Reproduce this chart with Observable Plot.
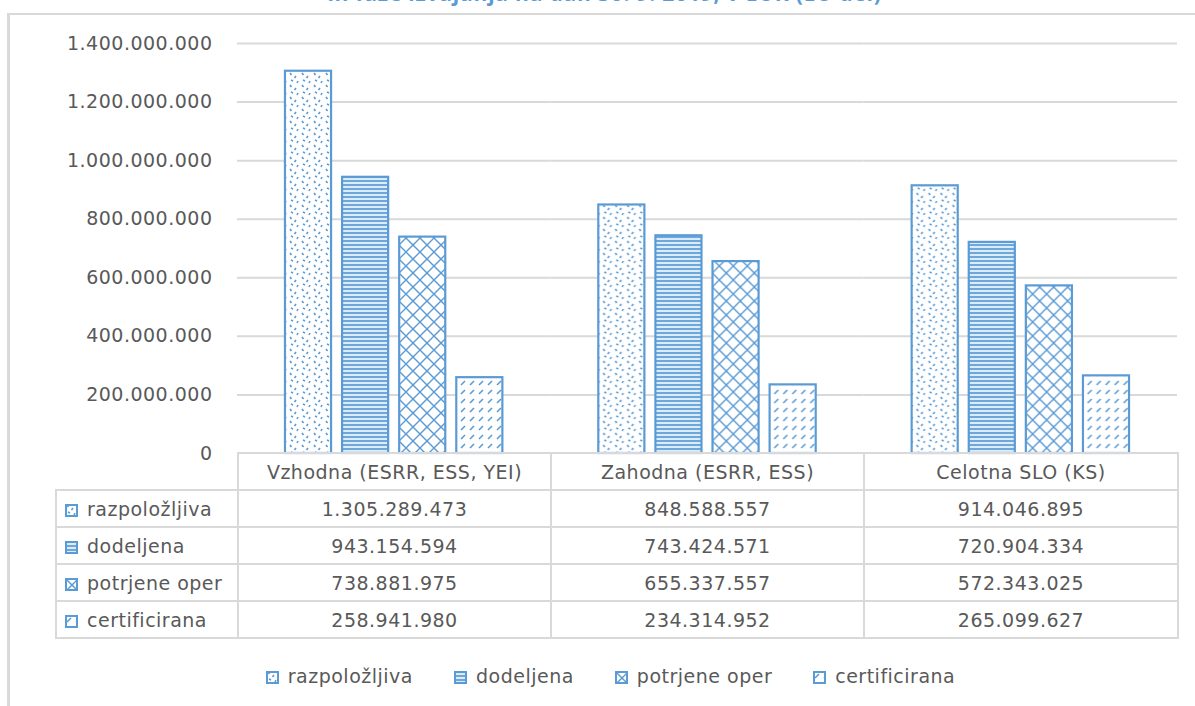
<!DOCTYPE html>
<html>
<head>
<meta charset="utf-8">
<script src="https://cdn.jsdelivr.net/npm/d3@7"></script>
<script src="https://cdn.jsdelivr.net/npm/@observablehq/plot@0.6"></script>
<style>
  html, body { margin: 0; padding: 0; background: #fff; overflow: hidden; }
  #wrap { position: relative; width: 1195px; height: 706px; font-family: "DejaVu Sans", sans-serif; color: #595959; letter-spacing: 0.5px; }
  #frame { position: absolute; left: 7px; top: 13px; right: -4px; bottom: -4px; border-left: 3px solid #d9d9d9; border-top: 2px solid #d9d9d9; }
  #title { position: absolute; left: 0; width: 1195px; top: -21px; text-align: center; font-family: "Open Sans", sans-serif; font-weight: 700; font-size: 21px; letter-spacing: 0.8px; color: #5B9BD5; white-space: nowrap; padding-left: 14px; box-sizing: border-box; }
  #chart { position: absolute; left: 0; top: 0; }
  #tbl { position: absolute; left: 55px; top: 452px; border-collapse: collapse; table-layout: fixed; width: 1123px; font-size: 19px; color: #595959; }
  #tbl td { border: 2px solid #d9d9d9; height: 35px; padding: 0; text-align: center; white-space: nowrap; overflow: hidden; }
  #tbl td.blank { border: none; }
  #tbl td.lab { text-align: left; padding-left: 8px; }
  .ico { display: inline-block; width: 13px; height: 13px; vertical-align: -1px; margin-right: 9px; }
  #legend { position: absolute; top: 665px; left: 0; width: 1195px; display: flex; justify-content: center; gap: 41px; font-size: 19px; color: #595959; padding-left: 26px; box-sizing: border-box; }
  #legend .ico { margin-right: 9px; }
</style>
</head>
<body>
<svg width="0" height="0" style="position:absolute">
  <defs>
    <pattern id="pat0" patternUnits="userSpaceOnUse" width="12" height="12">
      <rect width="12" height="12" fill="#fff"/>
      <path d="M2 1 l1.5 2 M8 4 l-1.5 2 M3 8 l2 1 M10 9 l-1 2" stroke="#5B9BD5" stroke-width="1.6" fill="none"/>
    </pattern>
    <pattern id="pat1" patternUnits="userSpaceOnUse" width="6" height="4">
      <rect width="6" height="4" fill="#dcebf8"/>
      <rect y="0" width="6" height="2" fill="#5B9BD5" fill-opacity="0.85"/>
    </pattern>
    <pattern id="pat2" patternUnits="userSpaceOnUse" width="14" height="14">
      <rect width="14" height="14" fill="#fff"/>
      <path d="M0 0 L14 14 M14 0 L0 14" stroke="#5B9BD5" stroke-width="1.4" fill="none"/>
      <circle cx="7" cy="7" r="1.2" fill="#5B9BD5"/>
    </pattern>
    <pattern id="pat3" patternUnits="userSpaceOnUse" width="9" height="9">
      <rect width="9" height="9" fill="#fff"/>
      <path d="M2 7 L6 3" stroke="#5B9BD5" stroke-width="1.6" fill="none"/>
    </pattern>
  </defs>
</svg>
<div id="wrap">
  <div id="frame"></div>
  <div id="title">in faze izvajanja na dan 30. 9. 2019, v EUR (EU del)</div>
  <div id="chart"></div>
  <table id="tbl"></table>
  <div id="legend"></div>
</div>
<script>
const categories = ["Vzhodna (ESRR, ESS, YEI)", "Zahodna (ESRR, ESS)", "Celotna SLO (KS)"];
const series = ["razpoložljiva", "dodeljena", "potrjene oper", "certificirana"];
const razpolozljiva = [1305289473, 848588557, 914046895];
const dodeljena = [943154594, 743424571, 720904334];
const potrjene = [738881975, 655337557, 572343025];
const certificirana = [258941980, 234314952, 265099627];
const yTicks = [0, 200000000, 400000000, 600000000, 800000000, 1000000000, 1200000000, 1400000000];

const valuesBySeries = [razpolozljiva, dodeljena, potrjene, certificirana];
const patterns = ["url(#pat0)", "url(#pat1)", "url(#pat2)", "url(#pat3)"];
const locale = d3.formatLocale({decimal: ",", thousands: ".", grouping: [3], currency: ["", " €"]});
const fmt = locale.format(",.0f");

const rows = [];
series.forEach((s, si) => categories.forEach((c, ci) => rows.push({cat: c, series: s, value: valuesBySeries[si][ci]})));

const plot = Plot.plot({
  width: 1195,
  height: 460,
  marginTop: 43,
  marginBottom: 7,
  marginLeft: 237,
  marginRight: 18,
  style: {fontFamily: "DejaVu Sans, sans-serif", fontSize: "19px", color: "#595959", background: "transparent", overflow: "visible", letterSpacing: "0.5px"},
  fx: {domain: categories, padding: 0, round: false, axis: null},
  x: {domain: series, paddingInner: 0.193, paddingOuter: 0.84, round: false, axis: null},
  y: {domain: [0, 1400000000], axis: null},
  color: {domain: series, range: patterns},
  marks: [
    Plot.ruleY(yTicks.filter(d => d > 0), {stroke: "#d9d9d9", strokeWidth: 2}),
    Plot.axisY({anchor: "left", ticks: yTicks, tickSize: 0, tickPadding: 25, tickFormat: fmt, label: null, facetAnchor: "left", fill: "#595959", fontSize: 19}),
    Plot.barY(rows, {fx: "cat", x: "series", y: "value", fill: "series", stroke: "#5B9BD5", strokeWidth: 2.2, inset: 0})
  ]
});
document.getElementById("chart").appendChild(plot);

// data table
const tbl = document.getElementById("tbl");
const colW = [182, 313, 313, 314];
let hdr = "<colgroup>" + colW.map(w => "<col style='width:" + w + "px'>").join("") + "</colgroup>";
hdr += "<tr><td class='blank'></td>";
categories.forEach((c, i) => hdr += "<td>" + c + "</td>");
hdr += "</tr>";
let body = "";
series.forEach((s, si) => {
  body += "<tr><td class='lab'><svg class='ico' viewBox='0 0 13 13'><rect x='1' y='1' width='11' height='11' fill='" + patterns[si] + "' stroke='#5B9BD5' stroke-width='2'/></svg>" + s + "</td>";
  categories.forEach((c, ci) => body += "<td>" + fmt(valuesBySeries[si][ci]) + "</td>");
  body += "</tr>";
});
tbl.innerHTML = hdr + body;

// legend
const leg = document.getElementById("legend");
leg.innerHTML = series.map((s, si) => "<span><svg class='ico' viewBox='0 0 13 13'><rect x='1' y='1' width='11' height='11' fill='" + patterns[si] + "' stroke='#5B9BD5' stroke-width='2'/></svg>" + s + "</span>").join("");
</script>
</body>
</html>
